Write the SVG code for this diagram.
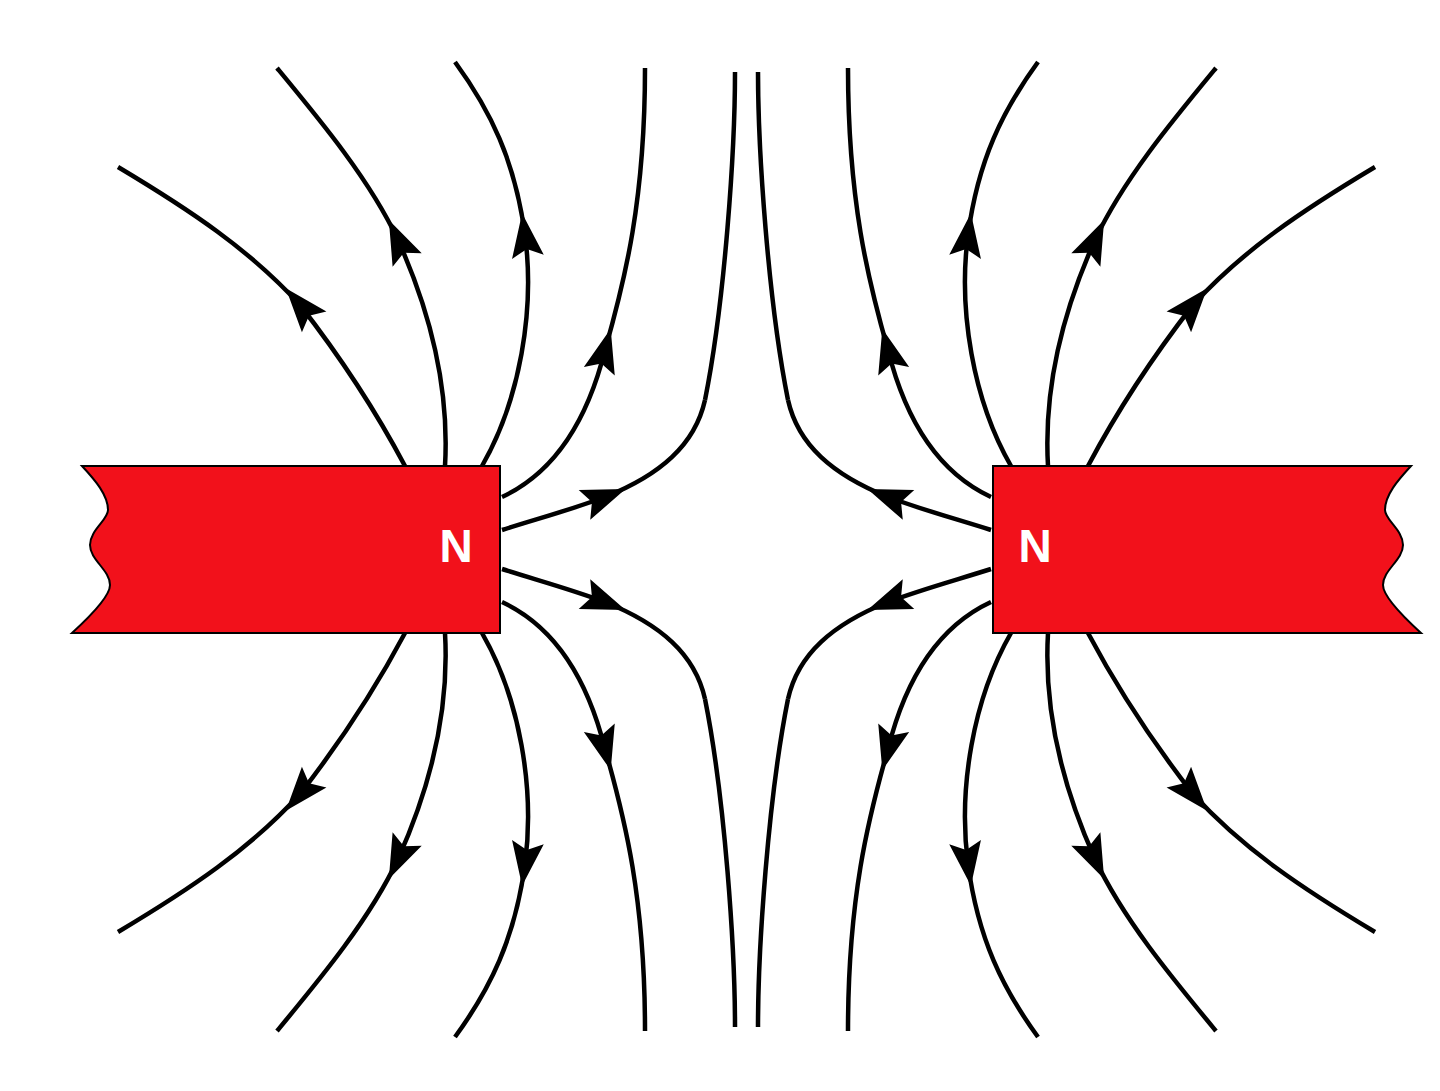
<svg xmlns="http://www.w3.org/2000/svg" xmlns:xlink="http://www.w3.org/1999/xlink" width="1440" height="1091" viewBox="0 0 1440 1091">
<style>
.f{fill:none;stroke:#000;stroke-width:4.5;stroke-linecap:butt}
.m{fill:#f2111b;stroke:#000;stroke-width:2}
.n{fill:#fff;font-family:"Liberation Sans",Arial,sans-serif;font-weight:bold;font-size:46px;text-anchor:middle}
</style>
<defs>
<marker id="a" markerUnits="userSpaceOnUse" markerWidth="50" markerHeight="40" viewBox="-25 -20 50 40" refX="0" refY="0" orient="auto">
<path d="M22,0 L-22,-16 L-14,0 L-22,16 Z" fill="#000"/>
</marker>
<g id="q">
<path class="f" marker-mid="url(#a)" d="M405,466 C370,400 335,350 300,305 C250,250 190,210 118,167"/>
<path class="f" marker-mid="url(#a)" d="M445,466 C450,380 425,300 398,240 C370,180 320,120 277,68"/>
<path class="f" marker-mid="url(#a)" d="M482,466 C520,400 535,310 525,235 C515,160 490,110 455,62"/>
<path class="f" marker-mid="url(#a)" d="M502,497 C560,470 590,410 605,350 C625,280 645,200 645,68"/>
<path class="f" marker-mid="url(#a)" d="M502,530 C540,518 570,510 605,497 C660,475 695,445 705,400"/>
<path class="f" d="M705,400 C725,300 735,150 735,72"/>
</g>
</defs>
<g id="connectors">
<use xlink:href="#q"/>
<use xlink:href="#q" transform="translate(0,1099) scale(1,-1)"/>
<use xlink:href="#q" transform="translate(1493,0) scale(-1,1)"/>
<use xlink:href="#q" transform="translate(1493,1099) scale(-1,-1)"/>
</g>
<g id="magnet-left">
<path class="m" d="M82,466 L500,466 L500,633 L72,633 C95,612 110,595 110,585 C110,570 90,560 90,545 C90,530 108,520 108,510 C108,495 95,480 82,466 Z"/>
<text class="n" x="456" y="562">N</text>
</g>
<g id="magnet-right">
<path class="m" transform="translate(1493,0) scale(-1,1)" d="M82,466 L500,466 L500,633 L72,633 C95,612 110,595 110,585 C110,570 90,560 90,545 C90,530 108,520 108,510 C108,495 95,480 82,466 Z"/>
<text class="n" x="1035" y="562">N</text>
</g>
</svg>
